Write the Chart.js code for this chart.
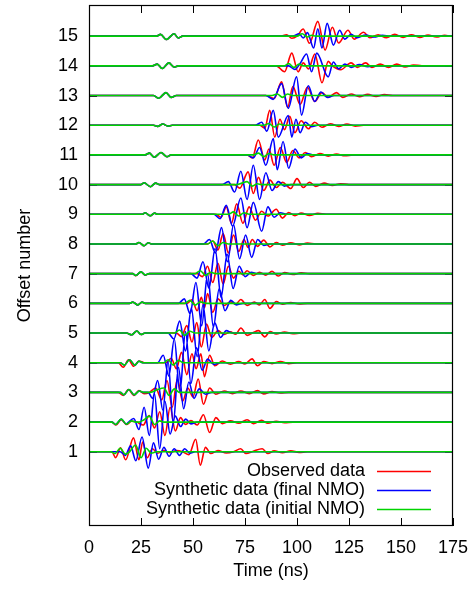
<!DOCTYPE html>
<html><head><meta charset="utf-8">
<script src="https://cdn.jsdelivr.net/npm/chart.js@4.4.1/dist/chart.umd.min.js"></script>
<style>html,body{margin:0;padding:0;background:#fff;}canvas{display:block;}</style>
</head><body>
<canvas id="c" width="476" height="589"></canvas>
<script>
// ---- data (time in ns, amplitude in offset units), flat [t, a, t, a, ...] per trace ----
const offsets = [1,2,3,4,5,6,7,8,9,10,11,12,13,14,15];
const xTicks = [0,25,50,75,100,125,150,175];
const seriesLabels = ['Observed data','Synthetic data (final NMO)','Synthetic data (initial NMO)'];

const observed = [
 [11,0,12.8,-0.2,15.2,0.13,17.6,-0.27,21.4,0.47,24,-0.27,25.8,0.33,28,-0.2,30.5,0.1,33,-0.05,36,0.04,39,-0.03,42,0.04,45,0,48,-0.1,51.3,0.42,53.5,-0.45,56,0.15,58.5,-0.06,62,0.04,66,-0.04,69.5,0,72.9,0.1,75.5,-0.06,79,0.02,83.3,0.1,86,-0.06,89,0.03,93,-0.03,97,0.03,101,-0.02,105,0],
 [11,0,13,-0.1,15.5,0.08,18,-0.08,20.5,0.03,23,0,26,-0.1,29,0.22,31.5,-0.2,34,0.35,36.5,-0.45,39,0.5,41.5,-0.3,44,0.15,46.5,-0.08,49,0.05,52,-0.1,55,0.25,58,-0.35,61,0.15,64,-0.05,68,0.04,72,-0.04,76,0.08,79,-0.05,83,0.06,86,-0.04,90,0.03,94,-0.02,98,0],
 [14,0,16.5,-0.1,19,0.1,21.5,-0.1,24,0.06,26.5,-0.04,29,0,32,0.15,35,-0.25,37.5,0.4,40,-0.5,42.5,0.45,45,-0.3,47.5,0.15,50,-0.15,52.5,0.45,55,-0.4,58,0.15,61,-0.06,65,0.05,69,-0.04,73,0.05,77,-0.04,81,0.06,84,-0.05,88,0.03,92,-0.02,96,0],
 [14,0,16.5,-0.15,19,0.1,21.5,-0.12,24,0.06,26.5,0,37,0,39.5,0.15,42,-0.2,44.5,0.35,47,-0.4,49.5,0.3,51.5,-0.2,53.8,0.3,55.5,-0.47,58,0.25,60.5,-0.1,64,0.06,68,-0.05,72,0.04,75,-0.04,78.4,0.13,81,-0.1,84,0.04,88,-0.03,92,0.04,96,-0.03,100,0],
 [18,0,20.5,-0.06,23,0.07,25,-0.05,27,0,42,0,44.5,-0.12,47,0.25,49.5,-0.3,51.8,0.35,54,-0.47,56.5,0.3,59,-0.15,62,0.08,65,-0.05,68,0.04,70.5,-0.04,73,0.17,76,-0.08,79,0.02,81.5,0.08,84.5,-0.13,87,0.05,90,-0.03,94,0.03,98,-0.02,102,0],
 [19.5,0,21,0.04,23.5,-0.05,25.5,0.04,27,0,47,0,49.5,0.12,52,-0.25,54,0.2,55.5,-0.15,57,0.33,59.5,-0.3,62,0.15,65,-0.07,68,0.05,70.5,-0.03,73,0.13,76,-0.07,79.5,0.04,82,-0.05,84.5,0.13,87,-0.17,90,0.06,93,-0.03,97,0.03,101,-0.02,105,0],
 [21,0,22.5,-0.07,25,0.06,27,-0.05,29,0,52,0,54.5,-0.1,57,0.25,59.5,-0.3,62,0.35,64.5,-0.35,67,0.25,69.5,-0.15,72,0.08,74,-0.04,76,0.1,79,-0.06,82,0.05,85,-0.05,88,0.08,91,-0.08,94,0.04,98,-0.03,102,0.03,106,0],
 [22.5,0,24,0.05,26.5,-0.06,28.5,0.04,30,0,57,0,59.5,0.1,62,-0.2,64.5,0.35,67,-0.3,69.5,0.3,72,-0.25,74.5,0.15,76.5,-0.12,78.5,0.15,81,-0.08,84,0.13,87,-0.1,90,0.05,93,-0.04,97,0.04,101,-0.03,105,0.03,109,0],
 [25.5,0,27,0.05,29.5,-0.05,31.5,0.04,33,0,61,0,63.5,-0.1,66,0.25,68.5,-0.3,71,0.35,74,-0.3,77,0.25,80,-0.2,83,0.1,86,-0.06,90,0.17,93,-0.13,96,0.06,99,-0.05,102,0.04,106,-0.04,110,0.03,114,0],
 [25,0,26.5,0.06,29.5,-0.07,32,0.05,34,0,70,0,72.5,-0.12,76.5,0.43,79,-0.3,81.5,0.25,84,-0.2,87,0.15,90,-0.1,93,0.08,97,-0.13,100,0.2,103,-0.1,106,0.08,109,-0.06,113,0.05,117,-0.03,121,0.03,125,0],
 [27,0,29,0.06,31.4,-0.08,34.6,0.08,37.5,-0.06,39.5,0,76,0,78.5,-0.1,81.4,0.5,84.5,-0.17,86.5,0.2,89,-0.35,92,0.25,95,-0.25,98,0.15,101,-0.1,104,0.08,107,-0.06,111,0.05,115,-0.04,119,0.03,123,-0.03,127,0],
 [31,0,33,-0.04,35.5,0.04,38,-0.03,40,0,82,0,84.5,-0.1,86.9,0.5,89.3,-0.4,91.8,0.2,94,-0.15,96.5,0.3,99,-0.25,102,0.15,105.5,-0.12,108.5,0.1,112,-0.07,116,0.05,120,-0.04,124,0.04,128,-0.03,132,0],
 [31,0,33.5,-0.09,37,0.1,39.5,-0.06,42,0,85,0,89,-0.1,92.6,0.46,95.5,-0.4,98,0.3,101.5,-0.3,105,0.28,108.5,-0.2,112,0.1,115,-0.06,119,0.1,122,-0.06,126,0.05,130,-0.04,134,0.04,138,-0.03,142,0.03,146,0],
 [30.5,0,32.8,0.06,35.2,-0.09,38.4,0.1,40.9,-0.04,43,0,90,0,94,-0.2,97.5,0.43,100.5,-0.2,103,0.1,105.5,-0.1,108.6,0.4,112,-0.57,115,0.15,117,0,121,-0.13,126,0.1,129,-0.05,133,0.1,136,-0.05,140,0.06,144,-0.05,148,0.06,152,-0.04,156,0.03,160,0],
 [32.5,0,34.4,0.06,37.2,-0.11,40.9,0.08,42.9,-0.06,45,0,92,0,95,0.05,97.5,-0.07,100,0,103,0.24,106,-0.24,110,0.5,113.5,-0.47,117,0.3,120,-0.23,124.5,0.2,127.5,-0.1,132,0.13,135,-0.05,139,0.05,143,-0.05,147,0.06,151,-0.04,155,0.05,159,-0.04,163,0.04,167,-0.03,171,0.03,174,0]
];

const finalNMO = [
 [15,0,17.5,-0.12,20,0.2,22.5,-0.3,25.5,0.5,28.5,-0.55,31,0.3,33.5,-0.25,36,0.15,38.5,-0.15,41,0.1,43.5,-0.12,46,0.1,48.5,-0.05,51,0],
 [11,0,12.8,-0.08,15.5,0.1,18,-0.07,19,0,21.5,0.12,24,-0.25,26.5,0.5,29,-0.45,31.5,0.95,34,-0.9,36.5,0.7,39,-0.4,41.5,0.2,44,-0.15,46.5,0.1,49,-0.06,52,0],
 [15,0,16.8,-0.08,19.2,0.1,21.7,-0.08,24.2,0.05,26,0,28.5,0,30.5,-0.2,33,0.4,35.5,-0.6,38,1.05,40.5,-1.05,43,0.85,45.5,-0.55,48,0.35,50.5,-0.2,53,0.12,56,-0.06,59,0],
 [15,0,17,-0.08,19.5,0.1,22,-0.08,24,0.05,26,0,33,0,35.7,0.25,38.4,-0.45,41,0.8,43.7,-1.0,46.4,1.05,49,-0.7,51.7,0.5,54.4,-0.25,57,0.12,60,-0.06,63,0],
 [18,0,20.5,-0.06,23,0.07,25,-0.05,27,0,38,0,40.8,-0.2,43.6,0.4,46.4,-0.6,49.2,0.85,52,-0.8,54.8,0.95,57.6,-0.6,60.4,0.35,63.2,-0.15,66,0.08,69,0],
 [19.5,0,21,0.04,23.5,-0.05,25.5,0.04,27,0,43,0,45.8,0.15,48.6,-0.35,51.4,0.7,54.2,-0.75,57,1.0,59.8,-0.8,62.6,0.5,65.4,-0.25,68.2,0.1,71,-0.05,74,0],
 [21,0,22.5,-0.06,25,0.06,27,-0.04,29,0,49,0,51.9,-0.15,54.8,0.4,57.7,-0.5,60.6,0.85,63.5,-0.8,66.4,0.65,69.3,-0.5,72.2,0.25,75.1,-0.1,78,0.05,81,0],
 [22.5,0,24,0.05,26.5,-0.06,28.5,0.04,30,0,55,0,57.9,0.15,60.8,-0.3,63.7,0.55,66.6,-0.6,69.5,0.65,72.4,-0.5,75.3,0.3,78.2,-0.45,81.1,0.15,84,-0.05,87,0],
 [25.5,0,27,0.05,29.5,-0.05,31.5,0.04,33,0,60,0,63,-0.15,66,0.3,69,-0.4,73,0.55,76,-0.45,79,0.4,83,-0.57,86,0.25,89,-0.1,92,0.05,95,0],
 [25,0,26.5,0.06,29.5,-0.07,32,0.05,34,0,64,0,67,0.1,70,-0.25,73,0.45,76,-0.5,79,0.65,82,-0.5,85,0.4,88,-0.2,91,0.1,94,-0.05,97,0],
 [27,0,29,0.06,31.4,-0.08,34.6,0.08,37.5,-0.06,39.5,0,76,0,79,-0.1,82,0.25,85,-0.35,88.6,0.55,90.5,-0.5,93.3,0.45,96,-0.45,99,0.2,102,-0.1,105,0.05,108,0],
 [31,0,33,-0.04,35.5,0.04,38,-0.03,40,0,80,0,83,0.1,85.5,-0.2,88.6,0.5,91,-0.4,95.8,0.33,97.5,-0.4,99.5,0.2,101.5,-0.25,104,0.1,107,-0.05,110,0],
 [31,0,33.5,-0.09,37,0.1,39.5,-0.06,42,0,85,0,88.5,-0.13,92.6,0.4,95.8,-0.43,99.8,0.63,102.2,-0.66,105.4,0.33,108.5,-0.2,111.5,0.12,114.5,-0.06,118,0],
 [30.5,0,32.8,0.06,35.2,-0.09,38.4,0.1,40.9,-0.04,43,0,96,0,99,-0.12,101.5,0.08,104.6,0.4,107,-0.2,109.5,0.43,115,-0.37,117.5,0.13,120,-0.1,123,0.06,126,-0.05,130,0.04,134,-0.03,138,0],
 [32.5,0,34.4,0.06,37.2,-0.11,40.9,0.08,42.9,-0.06,45,0,98,0,101,0.08,103,-0.06,105,0.12,108,-0.4,110,0.25,112,-0.4,114.5,0.43,117.5,-0.3,120.5,0.2,123,-0.1,126,0.06,129,-0.05,133,0.04,137,-0.03,141,0.03,145,0]
];

const initialNMO = [
 [10.5,0,12.5,-0.06,15,0.12,17.5,-0.08,19.5,0,22.4,0.23,25,-0.2,27.5,0.12,30,-0.05,32.5,0],
 [11,0,12.8,-0.08,15.5,0.1,18,-0.07,20.5,0.04,22.5,0,24,0,26.5,0.08,29,0.2,31.5,-0.08,34,0.04,36,0],
 [15,0,16.8,-0.08,19.2,0.1,21.7,-0.08,24.2,0.05,26.5,0,29.5,0,33,0.1,36,0.15,38.5,-0.1,41,0.12,43.5,0],
 [15,0,17,-0.08,19.5,0.1,22,-0.08,24,0.05,26,0,36,0,38,0.1,40.5,-0.08,43,0.08,45.5,0],
 [18,0,20.5,-0.06,23,0.07,25,-0.05,27,0,41,0,43.5,0.1,46,-0.08,48.5,0.06,51,0],
 [19.5,0,21,0.04,23.5,-0.05,25.5,0.04,27,0,46,0,48.5,0.1,51,-0.06,53.5,0.05,56,0],
 [21,0,22.5,-0.06,25,0.06,27,-0.04,29,0,51,0,53.5,0.1,56,-0.06,58.5,0.05,61,0],
 [22.5,0,24,0.05,26.5,-0.06,28.5,0.04,30,0,57,0,59.5,0.1,62,-0.06,64.5,0.05,67,0],
 [25.5,0,27,0.05,29.5,-0.05,31.5,0.04,33,0,67,0,69.5,0.08,72,-0.06,74.5,0.05,77,0],
 [25,0,26.5,0.06,29.5,-0.07,32,0.05,34,0,71,0,73.5,0.05,76,0.1,78.5,-0.05,81,0.03,83,0],
 [27,0,29,0.06,31.4,-0.08,34.6,0.08,37.5,-0.06,39.5,0,79,0,81.5,0.06,84,-0.06,86.5,0.05,89,0],
 [31,0,33,-0.04,35.5,0.04,38,-0.03,40,0,84,0,86.5,0.06,89,-0.06,91.5,0.04,94,0],
 [31,0,33.5,-0.09,37,0.1,39.5,-0.06,42,0,88,0,90.5,0.05,93,-0.06,95.5,0.05,98,0],
 [30.5,0,32.8,0.06,35.2,-0.09,38.4,0.1,40.9,-0.04,43,0,94,0,96,0.08,98.5,-0.05,101,0.06,103,0],
 [32.5,0,34.4,0.06,37.2,-0.11,40.9,0.08,42.9,-0.06,45,0,100,0,102.5,0.08,105,-0.03,107,0.03,109,0]
];

const seriesColors = ['#ff0000', '#0000ff', '#00d400'];

// ---- build line points from the trace arrays ----
function buildPoints(traces) {
  const pts = [];
  const t0 = xTicks[0], t1 = xTicks[xTicks.length - 1];
  traces.forEach((tr, i) => {
    const off = offsets[i];
    pts.push({x: t0, y: off});
    for (let j = 0; j < tr.length; j += 2) pts.push({x: tr[j], y: off + tr[j + 1]});
    pts.push({x: t1, y: off});
    pts.push({x: t1, y: null});
  });
  return pts;
}

const FONT = 'Liberation Sans, Arial, Helvetica, sans-serif';

const framePlugin = {
  id: 'frame',
  beforeDatasetsDraw(chart) {
    const {ctx, chartArea: a, scales: {x, y}} = chart;
    ctx.save();
    ctx.strokeStyle = '#000';
    ctx.lineWidth = 1;
    ctx.beginPath();
    xTicks.forEach(v => {
      const px = Math.round(x.getPixelForValue(v)) + 0.5;
      ctx.moveTo(px, a.bottom); ctx.lineTo(px, a.bottom - 8);
      ctx.moveTo(px, a.top); ctx.lineTo(px, a.top + 8);
    });
    offsets.forEach(v => {
      const py = Math.round(y.getPixelForValue(v)) + 0.5;
      ctx.moveTo(a.left, py); ctx.lineTo(a.left + 8, py);
      ctx.moveTo(a.right, py); ctx.lineTo(a.right - 8, py);
    });
    ctx.stroke();
    ctx.restore();
  },
  afterDraw(chart) {
    const {ctx, chartArea: a} = chart;
    ctx.save();
    ctx.strokeStyle = '#000';
    ctx.lineWidth = 1.2;
    ctx.strokeRect(Math.round(a.left) + 0.5, Math.round(a.top) + 0.5, Math.round(a.right - a.left) - 1, Math.round(a.bottom - a.top) - 1);
    // legend inside plot, bottom right
    ctx.font = '18px ' + FONT;
    ctx.textAlign = 'right';
    ctx.textBaseline = 'middle';
    const rows = [471, 490, 509];
    chart.data.datasets.forEach((ds, i) => {
      const yy = rows[i];
      ctx.fillStyle = '#000';
      ctx.fillText(ds.label, 365, yy);
      ctx.strokeStyle = ds.borderColor;
      ctx.lineWidth = 1.5;
      ctx.beginPath();
      ctx.moveTo(377, yy + 0.5); ctx.lineTo(431, yy + 0.5);
      ctx.stroke();
    });
    ctx.restore();
  }
};

const datasets = [observed, finalNMO, initialNMO].map((tr, i) => ({
  label: seriesLabels[i],
  data: buildPoints(tr),
  borderColor: seriesColors[i],
  backgroundColor: seriesColors[i],
  borderWidth: 1.6,
  pointRadius: 0,
  fill: false,
  spanGaps: false,
  cubicInterpolationMode: 'monotone',
  order: 2 - i
}));

new Chart(document.getElementById('c'), {
  type: 'line',
  data: {datasets},
  options: {
    responsive: false,
    animation: false,
    devicePixelRatio: 1,
    layout: {padding: {top: 5, right: 23, left: 0, bottom: 0}},
    plugins: {legend: {display: false}, tooltip: {enabled: false}},
    scales: {
      x: {
        type: 'linear', min: 0, max: 175,
        grid: {display: false, drawTicks: false},
        border: {display: false},
        afterBuildTicks: s => { s.ticks = xTicks.map(v => ({value: v})); },
        afterFit: s => { s.height = 63; s.paddingLeft = 0; s.paddingRight = 0; },
        ticks: {autoSkip: false, maxRotation: 0, padding: 11, color: '#000', font: {family: FONT, size: 18}},
        title: {display: true, text: 'Time (ns)', color: '#000', font: {family: FONT, size: 18}, padding: {top: 0, bottom: 7}}
      },
      y: {
        type: 'linear', min: -1.5, max: 16.05,
        grid: {display: false, drawTicks: false},
        border: {display: false},
        afterBuildTicks: s => { s.ticks = offsets.map(v => ({value: v})); },
        afterFit: s => { s.width = 89; s.paddingTop = 0; s.paddingBottom = 0; },
        ticks: {autoSkip: false, padding: 11, color: '#000', font: {family: FONT, size: 18}},
        title: {display: true, text: 'Offset number', color: '#000', font: {family: FONT, size: 18}, padding: {top: 14, bottom: 0}}
      }
    }
  },
  plugins: [framePlugin]
});
</script>
</body></html>
